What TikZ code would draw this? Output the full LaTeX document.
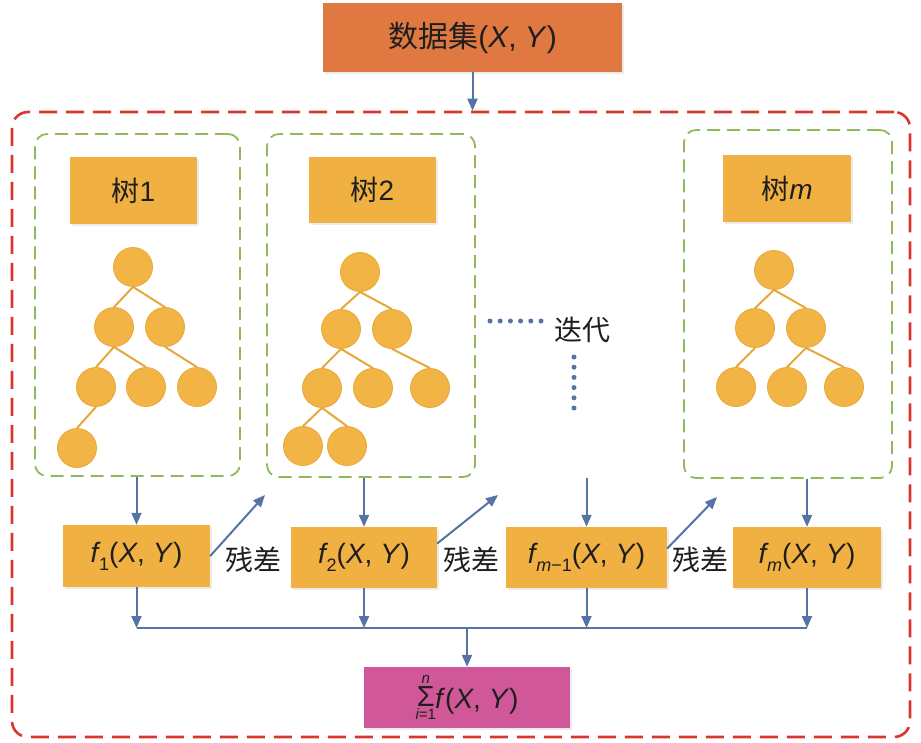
\documentclass[tikz,border=0pt]{standalone}
\usepackage{fontspec}
\setmainfont{Liberation Sans}
\newfontfamily\cjk{Noto Sans CJK SC}
\usetikzlibrary{arrows.meta,shadows}
\definecolor{topc}{RGB}{224,120,66}
\definecolor{boxc}{RGB}{240,177,66}
\definecolor{circc}{RGB}{242,180,68}
\definecolor{edgec}{RGB}{230,168,58}
\definecolor{greenc}{RGB}{145,185,90}
\definecolor{redc}{RGB}{215,55,45}
\definecolor{arrc}{RGB}{85,115,165}
\definecolor{sumc}{RGB}{208,88,152}
\definecolor{txt}{RGB}{30,30,30}
\newcommand\lowidx[1]{\kern-1.5pt\raisebox{-0.28em}{\fontsize{18}{18}\selectfont #1}}
\newcommand\sumsym{\raisebox{-11pt}{\shortstack{{\fontsize{15}{15}\selectfont\itshape n}\\{\fontsize{29}{29}\selectfont Σ}\\{\fontsize{15}{15}\selectfont\itshape i\upshape =1}}}}
\begin{document}
\begin{tikzpicture}[x=1pt,y=-1pt,
  box/.style={rectangle, inner sep=0pt, text=txt, font=\fontsize{28}{32}\selectfont,
    drop shadow={shadow xshift=1.5pt, shadow yshift=-2pt, opacity=0.15}},
  ybox/.style={box, fill=boxc},
  greenbox/.style={rectangle, draw=greenc, line width=1.8pt, dash pattern=on 13pt off 7pt, rounded corners=12pt, inner sep=0pt},
  redbox/.style={rectangle, draw=redc, line width=2.6pt, dash pattern=on 18pt off 9pt, rounded corners=16pt, inner sep=0pt},
  tn/.style={circle, minimum size=39pt, inner sep=0pt, fill=circc, draw=edgec, line width=0.8pt},
  tedge/.style={draw=edgec, line width=2pt},
  arr/.style={draw=arrc, line width=2pt, -{Triangle[length=12pt,width=10pt]}},
  bline/.style={draw=arrc, line width=2pt},
  lbl/.style={inner sep=0pt, text=txt, font=\fontsize{28}{32}\selectfont\cjk},
  dots/.style={draw=arrc, line width=5pt, line cap=round, dash pattern=on 0pt off 10.2pt}
]
\useasboundingbox (0,0) rectangle (921,742);

% top
\node[box, fill=topc, minimum width=299pt, minimum height=69pt, font=\fontsize{30}{34}\selectfont] (top) at (472.5,37.5)
  {{\cjk 数据集}(\textit{X}, \textit{Y})};
% outer red box
\node[redbox, minimum width=898pt, minimum height=625pt] (outer) at (461,424.5) {};
\draw[arr] (top.south) -- (top.south |- outer.north);

% green boxes
\node[greenbox, minimum width=205pt, minimum height=342pt] (g1) at (137.5,305) {};
\node[greenbox, minimum width=208pt, minimum height=343pt] (g2) at (371,305.5) {};
\node[greenbox, minimum width=208pt, minimum height=348pt] (gm) at (788,304) {};

% tree labels
\node[ybox, minimum width=127pt, minimum height=67pt] (t1) at (133.5,190.5) {{\cjk 树}1};
\node[ybox, minimum width=127pt, minimum height=66pt] (t2) at (372.5,190) {{\cjk 树}2};
\node[ybox, minimum width=128pt, minimum height=67pt] (tm) at (787,188.5) {{\cjk 树}\textit{m}};

% tree 1
\node[tn] (a0) at (133,267) {};
\node[tn] (a1) at (114,327) {};
\node[tn] (a2) at (165,327) {};
\node[tn] (a3) at (96,387) {};
\node[tn] (a4) at (146,387) {};
\node[tn] (a5) at (197,387) {};
\node[tn] (a6) at (77,448) {};
\draw[tedge] (a0.south) -- (a1.north) (a0.south) -- (a2.north)
  (a1.south) -- (a3.north) (a1.south) -- (a4.north)
  (a2.south) -- (a5.north) (a3.south) -- (a6.north);

% tree 2
\node[tn] (b0) at (360,272) {};
\node[tn] (b1) at (341,329) {};
\node[tn] (b2) at (392,329) {};
\node[tn] (b3) at (322,388) {};
\node[tn] (b4) at (373,388) {};
\node[tn] (b5) at (430,388) {};
\node[tn] (b6) at (303,446) {};
\node[tn] (b7) at (347,446) {};
\draw[tedge] (b0.south) -- (b1.north) (b0.south) -- (b2.north)
  (b1.south) -- (b3.north) (b1.south) -- (b4.north)
  (b2.south) -- (b5.north) (b3.south) -- (b6.north) (b3.south) -- (b7.north);

% tree m
\node[tn] (c0) at (774,270) {};
\node[tn] (c1) at (755,328) {};
\node[tn] (c2) at (806,328) {};
\node[tn] (c3) at (736,387) {};
\node[tn] (c4) at (787,387) {};
\node[tn] (c5) at (844,387) {};
\draw[tedge] (c0.south) -- (c1.north) (c0.south) -- (c2.north)
  (c1.south) -- (c3.north) (c2.south) -- (c4.north) (c2.south) -- (c5.north);

% iteration
\node[lbl] (iter) at (582,330) {迭代};
\coordinate (h0) at (490,321);
\coordinate (h1) at (541.5,321);
\coordinate (v0) at (574,357);
\coordinate (v1) at (574,409.5);
\draw[dots] (h0) -- (h1);
\draw[dots] (v0) -- (v1);

% f boxes
\node[ybox, minimum width=147pt, minimum height=62pt] (f1) at (136.5,556) {\textit{f}\lowidx{1}(\textit{X}, \textit{Y})};
\node[ybox, minimum width=146pt, minimum height=61pt] (f2) at (364,557.5) {\textit{f}\lowidx{2}(\textit{X}, \textit{Y})};
\node[ybox, minimum width=161pt, minimum height=61pt] (fm1) at (586.5,557.5) {\textit{f}\lowidx{\textit{m}−1}(\textit{X}, \textit{Y})};
\node[ybox, minimum width=148pt, minimum height=61pt] (fm) at (807,557.5) {\textit{f}\lowidx{\textit{m}}(\textit{X}, \textit{Y})};

% arrows into f boxes
\coordinate (fm1top) at (586.5,478);
\draw[arr] (f1.north |- g1.south) -- (f1.north);
\draw[arr] (f2.north |- g2.south) -- (f2.north);
\draw[arr] (fm1top) -- (fm1.north);
\draw[arr] (fm.north |- gm.south) -- (fm.north);

% residual arrows
\coordinate (r1) at (265,495);
\coordinate (r2) at (498,495);
\coordinate (r3) at (717,497);
\draw[arr] (f1.east) -- (r1);
\draw[arr] ([yshift=14pt]f2.east) -- (r2);
\draw[arr] ([yshift=9pt]fm1.east) -- (r3);
\node[lbl] (c1l) at (253,560) {残差};
\node[lbl] (c2l) at (471,560) {残差};
\node[lbl] (c3l) at (700,560) {残差};

% sum
\node[box, fill=sumc, minimum width=206pt, minimum height=61pt] (sum) at (467,697.5)
  {\sumsym\kern-1pt\textit{f}(\textit{X}, \textit{Y})};

\coordinate (bus) at (0,628);
\draw[arr] (f1.south) -- (f1.south |- bus);
\draw[arr] (f2.south) -- (f2.south |- bus);
\draw[arr] (fm1.south) -- (fm1.south |- bus);
\draw[arr] (fm.south) -- (fm.south |- bus);
\draw[bline] (f1.south |- bus) -- (fm.south |- bus);
\draw[arr] (sum.north |- bus) -- (sum.north);
\end{tikzpicture}
\end{document}
